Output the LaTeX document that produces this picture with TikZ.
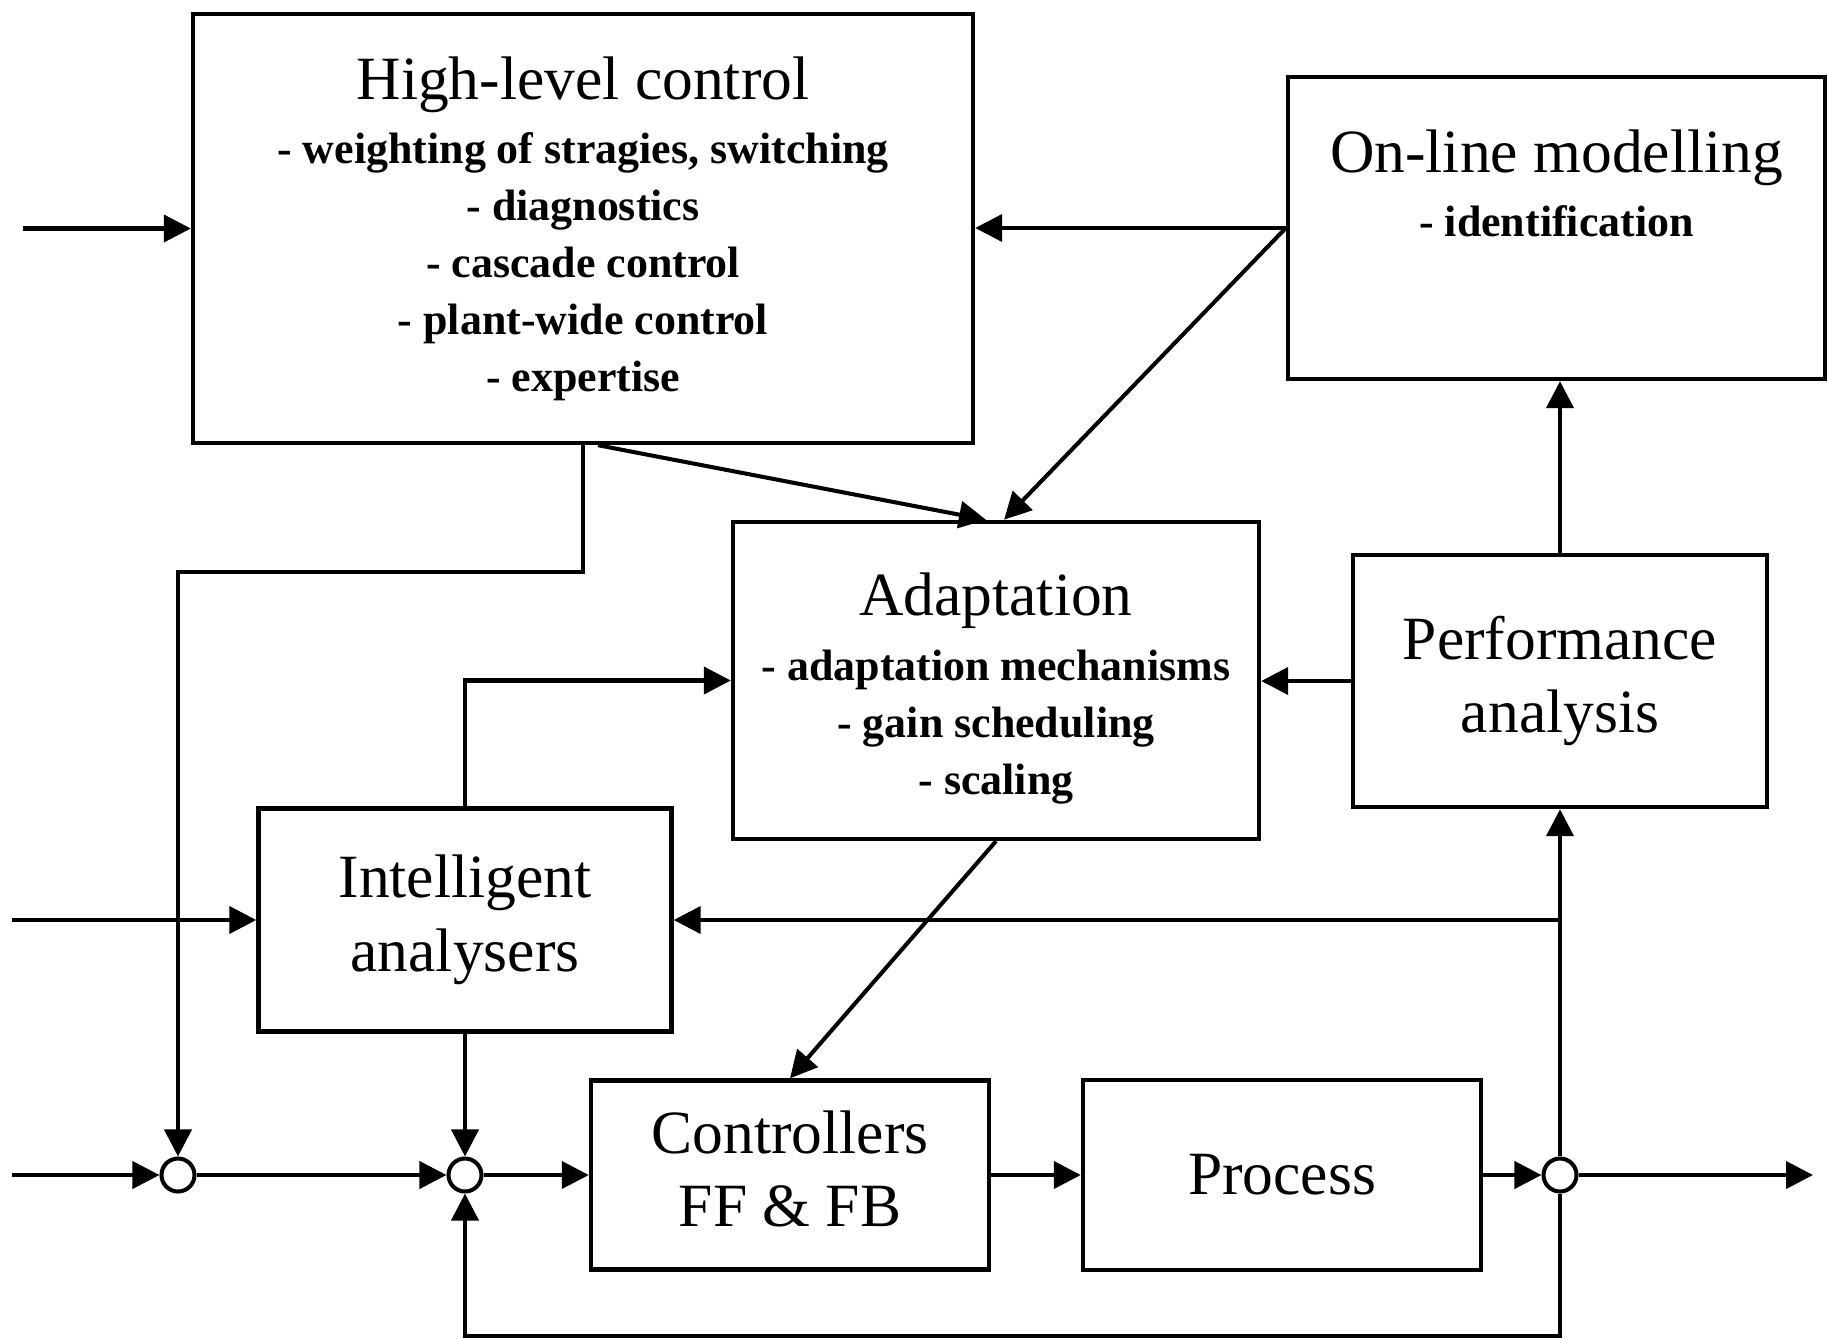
\documentclass[tikz,border=0pt]{standalone}
\usepackage{fontspec}
\setmainfont{Liberation Serif}
\usetikzlibrary{arrows.meta,positioning}

\newcommand{\ttlfont}{\fontsize{17.5}{21}\selectfont\mdseries}
\newcommand{\itmfont}{\fontsize{12.5}{16.2}\selectfont\bfseries}

\tikzset{
  blk/.style={draw, line width=1.25pt, align=center, inner sep=0pt, font=\ttlfont},
  lst/.style={blk, font=\itmfont},
  sumpt/.style={draw, circle, line width=1.15pt, minimum size=3.3mm, inner sep=0pt, fill=white},
  sig/.style={line width=1.15pt, -{Triangle[length=2.7mm,width=2.7mm]}},
}

\begin{document}
\begin{tikzpicture}[x=1mm,y=-1mm]
	%%%%% START %%%%%
	\useasboundingbox (0,0) rectangle (182.8,134);
	
	% blocks
	\node[lst, minimum width=78mm, minimum height=42.9mm] (hlc) at (58.3,22.85)
		{{\ttlfont High-level control}\\[2pt]
		 - weighting of stragies, switching\\
		 - diagnostics\\
		 - cascade control\\
		 - plant-wide control\\
		 - expertise};
	\node[blk, minimum width=53.7mm, minimum height=30.2mm] (olm) at (155.65,22.8) {};
	\node[lst, draw=none, below=5.3mm of olm.north] (olmtxt)
		{{\ttlfont On-line modelling}\\[2pt] - identification};
	\node[blk, minimum width=52.6mm, minimum height=31.7mm] (ada) at (99.6,68.05) {};
	\node[lst, draw=none] (adatxt) at ([yshift=-0.8mm]ada.center)
		{{\ttlfont Adaptation}\\[2.5pt]
		 - adaptation mechanisms\\
		 - gain scheduling\\
		 - scaling};
	\node[blk, minimum width=41.4mm, minimum height=25.2mm] (per) at (156,68.1) {Performance\\ analysis};
	\node[blk, minimum width=41.3mm, minimum height=22.3mm] (int) at (46.5,92) {Intelligent\\ analysers};
	\node[blk, minimum width=39.8mm, minimum height=18.9mm] (ctl) at (79,117.5) {};
	\node[blk, draw=none] (ctltxt) at ([yshift=0.6mm]ctl.center) {Controllers\\ FF \& FB};
	\node[blk, minimum width=39.8mm, minimum height=19mm] (pro) at (128.2,117.5) {Process};
	
	% summing points
	\node[sumpt] (s1) at (17.8,117.5) {};
	\node[sumpt] (s2) at (46.5,117.5) {};
	\node[sumpt] (s3) at (156,117.5) {};
	
	% free ends and bends
	\coordinate (inhl) at (2.3,22.85);
	\coordinate (inin) at (1.2,92);
	\coordinate (inmn) at (1.2,117.5);
	\coordinate (outp) at (181.3,117.5);
	\coordinate (hlbend) at (58.3,57.2);
	\coordinate (fbbend) at (156,133.6);
	\coordinate (tap) at (156,92);
	
	% upper signals
	\draw[sig] (inhl) -- (hlc.west);
	\draw[sig] (olm.west) -- (olm.west -| hlc.east);
	\draw[sig] (olm.west) -- ([xshift=0.8mm]ada.north);
	\draw[sig] ([xshift=1.5mm]hlc.south) -- ([xshift=-1mm]ada.north);
	\draw[sig] (hlc.south) -- (hlbend) -| (s1.north);
	\draw[sig] (int.north) |- (ada.west);
	\draw[sig] (per.west) -- (per.west -| ada.east);
	\draw[sig] (per.north) -- (per.north |- olm.south);
	\draw[sig] (ada.south) -- (ctl.north);
	\draw[sig] (inin) -- (int.west);
	\draw[sig] (tap) -- (int.east);
	\draw[sig] (s3.north) -- (per.south);
	\draw[sig] (int.south) -- (s2.north);
	
	% main loop
	\draw[sig] (inmn) -- (s1.west);
	\draw[sig] (s1.east) -- (s2.west);
	\draw[sig] (s2.east) -- (ctl.west);
	\draw[sig] (ctl.east) -- (pro.west);
	\draw[sig] (pro.east) -- (s3.west);
	\draw[sig] (s3.east) -- (outp);
	\draw[sig] (s3.south) -- (fbbend) -| (s2.south);
	%%%%% END %%%%%
\end{tikzpicture}
\end{document}
